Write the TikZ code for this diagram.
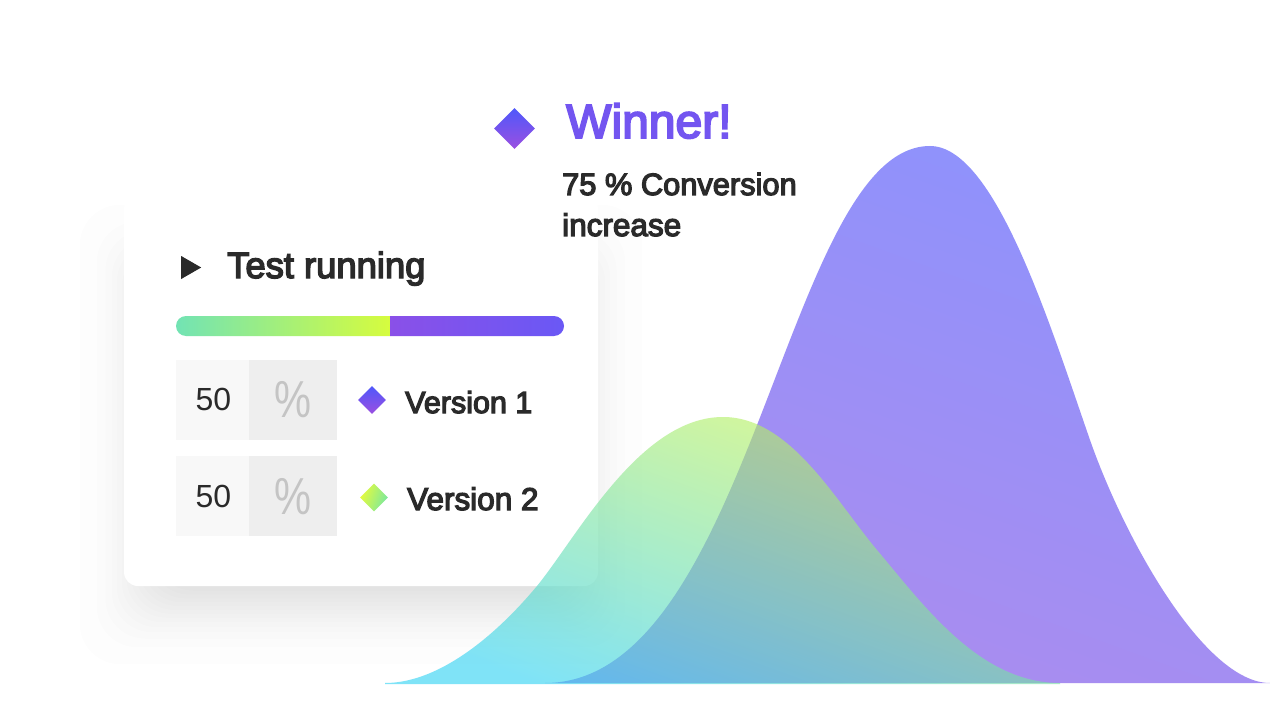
\documentclass[tikz,border=0pt]{standalone}
\usepackage{fontspec}
\setmainfont{Liberation Sans}
\newfontfamily\medfont[FakeBold=4]{Liberation Sans}
\usetikzlibrary{shapes.geometric}
\definecolor{inkdark}{HTML}{2A2A2A}
\definecolor{winnerviolet}{HTML}{7355F0}
\definecolor{shadowgrey}{HTML}{5A6068}
\definecolor{cellleft}{HTML}{F8F8F8}
\definecolor{cellright}{HTML}{EEEEEE}
\definecolor{percentgrey}{HTML}{C4C4C4}
\definecolor{gemblue}{HTML}{4F58FB}
\definecolor{gemplum}{HTML}{9B4FE0}
\definecolor{gemlime}{HTML}{E6FB3C}
\definecolor{gemmint}{HTML}{78E8A0}
\definecolor{barmint}{HTML}{72E3B4}
\definecolor{barlime}{HTML}{D6FC3E}
\definecolor{barplum}{HTML}{8A50E8}
\definecolor{barblue}{HTML}{6A58F5}
\definecolor{peakblue}{HTML}{8E92FC}
\definecolor{peakplum}{HTML}{AC8CEE}
\definecolor{humplime}{HTML}{CBF54B}
\definecolor{humpcyan}{HTML}{32D3F3}
\tikzset{
  medtext/.style={anchor=base west,inner sep=0pt,text=inkdark,font=\medfont\fontsize{#1}{#1}\selectfont},
  plaintext/.style={anchor=base,inner sep=0pt,text=inkdark,font=\fontsize{32}{32}\selectfont},
  percenttext/.style={inner sep=0pt,text=percentgrey,xscale=0.8,font=\fontsize{52}{52}\selectfont},
  gem/.style={diamond,inner sep=0pt,minimum size=#1},
  violetgem/.style={gem=#1,top color=gemblue,bottom color=gemplum},
}
\begin{document}
\begin{tikzpicture}[x=1pt,y=-1pt]
\useasboundingbox (0,0) rectangle (1270,706);
\fill[white] (0,0) rectangle (1270,706);
% card shadow
\foreach \e in {-60,-43,-34.5,-28,-23,-18,-13.5,-9.6,-5.7,-1.9,1.9,5.7,9.6,13.5,18,23,28,34.5,43,60}
  \fill[shadowgrey,fill opacity=0.012,rounded corners=40pt] (140-\e,265-\e) rectangle (582+\e,604+\e);
% card
\node[fill=white,rounded corners=14pt,inner sep=0pt,minimum width=474pt,minimum height=391pt] (card) at (361,390.5) {};
% heading
\node[violetgem=41pt] (winnergem) at (514.5,128.5) {};
\node[medtext=48,text=winnerviolet] (winner) at (566,138) {Winner!};
\node[medtext=30.8] (conversion) at (562,195) {75 \% Conversion};
\node[medtext=31.5] (increase) at (562,236) {increase};
% test running
\node[fill=inkdark,isosceles triangle,isosceles triangle apex angle=60,inner sep=0pt,minimum height=20pt,minimum width=23pt,anchor=lower side,isosceles triangle stretches] (play) at (181,267.5) {};
\node[medtext=36.4] (running) at (227,278) {Test running};
% bar
\shade[left color=barmint,right color=barlime] (390,316) [rounded corners=10pt] -- (176,316) -- (176,336) [sharp corners] -- (390,336) -- cycle;
\shade[left color=barplum,right color=barblue] (390,316) [rounded corners=10pt] -- (564,316) -- (564,336) [sharp corners] -- (390,336) -- cycle;
% rows
\fill[cellleft] (176,360) rectangle (249,440);
\fill[cellright] (249,360) rectangle (337,440);
\fill[cellleft] (176,456) rectangle (249,536);
\fill[cellright] (249,456) rectangle (337,536);
\node[plaintext] (fiftya) at (213.5,410) {50};
\node[plaintext] (fiftyb) at (213.5,507) {50};
\node[percenttext] (percenta) at (293,400) {\%};
\node[percenttext] (percentb) at (293,497) {\%};
\node[violetgem=28pt] (gema) at (372,400) {};
\node[gem=28pt,left color=gemlime,right color=gemmint,shading angle=70] (gemb) at (374,497.5) {};
\node[medtext=30.5] (versiona) at (405,413) {Version 1};
\node[medtext=31.5] (versionb) at (407,510) {Version 2};
% curves
\shade[top color=peakblue,bottom color=peakplum,shading angle=-20]
  (545,683) .. controls (752,683) and (786,146) .. (930,146)
  .. controls (995,146) and (1050,325) .. (1090,440)
  .. controls (1125,540) and (1205,683) .. (1270,683) -- cycle;
\shade[top color=humplime,bottom color=humpcyan,shading angle=-20,opacity=0.62]
  (385,683) .. controls (440,683) and (497,634) .. (537,586)
  .. controls (577,537) and (640,417) .. (723,417)
  .. controls (790,417) and (835,500) .. (877,550)
  .. controls (925,607) and (980,683) .. (1060,683) -- (1060,684) -- (385,684) -- cycle;
\end{tikzpicture}
\end{document}
